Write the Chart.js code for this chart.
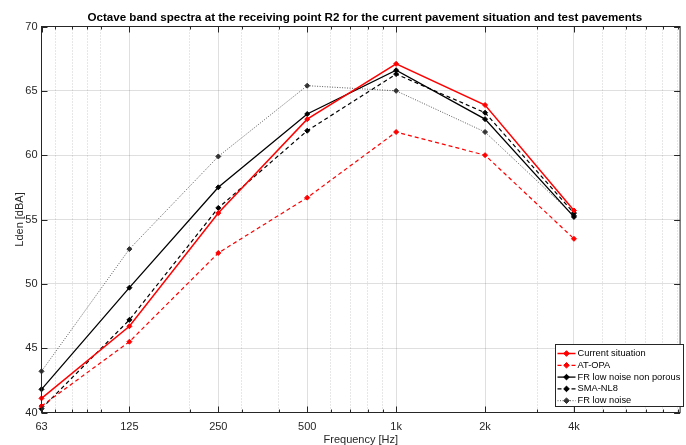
<!DOCTYPE html>
<html>
<head>
<meta charset="utf-8">
<script src="https://cdn.jsdelivr.net/npm/chart.js@4"></script>
<style>
  html, body { margin: 0; padding: 0; background: #fff; }
  canvas { display: block; }
</style>
</head>
<body>
<canvas id="spectraChart" width="686" height="445"></canvas>
<script>
// octave bands and labelled ticks
var bands = [63, 125, 250, 500, 1000, 2000, 4000];
var bandLabels = ["63", "125", "250", "500", "1k", "2k", "4k"];
var minorTicks = [70, 80, 90, 100, 200, 300, 400, 600, 700, 800, 900, 3000, 5000, 6000, 7000, 8000, 9000];

// Lden per band [dBA]
var currentSituation = [41.1, 46.7, 55.5, 62.8, 67.1, 63.9, 55.7];
var atOpa = [40.5, 45.5, 52.4, 56.7, 61.8, 60.0, 53.5];
var frLowNoiseNonPorous = [41.8, 49.7, 57.5, 63.2, 66.6, 62.8, 55.2];
var smaNl8 = [40.3, 47.2, 55.9, 61.9, 66.3, 63.3, 55.5];
var frLowNoise = [43.2, 52.7, 59.9, 65.4, 65.0, 61.8, 55.3];

var titleText = "Octave band spectra at the receiving point R2 for the current pavement situation and test pavements";
var fontFamily = "'Liberation Sans', Arial, Helvetica, sans-serif";
var axisColor = "#262626";
var majorGrid = "rgba(38,38,38,0.15)";
var minorGrid = "rgba(38,38,38,0.22)";

var toPoints = function(values) {
  return bands.map(function(f, i) { return { x: f, y: values[i] }; });
};

var makeSeries = function(label, values, color, width, dash) {
  return {
    label: label,
    data: toPoints(values),
    borderColor: color,
    backgroundColor: color,
    borderWidth: width,
    borderDash: dash,
    pointStyle: "rectRot",
    pointRadius: 2.5,
    pointBorderWidth: 1,
    pointBackgroundColor: color,
    pointBorderColor: color,
    tension: 0,
    clip: false,
  };
};

var datasets = [
  makeSeries("Current situation", currentSituation, "#ff0000", 1.5, []),
  makeSeries("AT-OPA", atOpa, "#ff0000", 1.2, [4, 3]),
  makeSeries("FR low noise non porous", frLowNoiseNonPorous, "#000000", 1.3, []),
  makeSeries("SMA-NL8", smaNl8, "#000000", 1.2, [4, 3]),
  makeSeries("FR low noise", frLowNoise, "#333333", 0.8, [1, 1.5]),
];

// title over the axes
var axesTitle = {
  id: "axesTitle",
  afterDraw: function(chart) {
    var a = chart.chartArea, ctx = chart.ctx;
    ctx.save();
    ctx.fillStyle = "#000";
    ctx.font = "bold 11.6px " + fontFamily;
    ctx.textAlign = "center";
    ctx.textBaseline = "middle";
    ctx.fillText(titleText, (a.left + a.right) / 2 + 4, 17.5);
    ctx.restore();
  },
};

// box round the plot with inward ticks on all four sides
var axesBox = {
  id: "axesBox",
  afterDatasetsDraw: function(chart) {
    var a = chart.chartArea, ctx = chart.ctx;
    var xs = chart.scales.x, ys = chart.scales.y;
    ctx.save();
    ctx.strokeStyle = axisColor;
    ctx.lineWidth = 1;
    ctx.beginPath();
    xs.ticks.forEach(function(t) {
      var px = Math.round(xs.getPixelForValue(t.value)) + 0.5;
      var len = t.major ? 6 : 3;
      ctx.moveTo(px, a.bottom);
      ctx.lineTo(px, a.bottom - len);
      ctx.moveTo(px, a.top);
      ctx.lineTo(px, a.top + len);
    });
    ys.ticks.forEach(function(t) {
      var py = Math.round(ys.getPixelForValue(t.value)) + 0.5;
      ctx.moveTo(a.left, py);
      ctx.lineTo(a.left + 6, py);
      ctx.moveTo(a.right, py);
      ctx.lineTo(a.right - 6, py);
    });
    ctx.stroke();
    ctx.strokeRect(a.left, a.top, a.right - a.left, a.bottom - a.top);
    ctx.restore();
  },
};

var drawDiamond = function(ctx, x, y, r) {
  ctx.beginPath();
  ctx.moveTo(x, y - r);
  ctx.lineTo(x + r, y);
  ctx.lineTo(x, y + r);
  ctx.lineTo(x - r, y);
  ctx.closePath();
  ctx.fill();
  ctx.stroke();
};

// legend box in the lower right corner
var legendBox = {
  id: "legendBox",
  afterDraw: function(chart) {
    var ctx = chart.ctx;
    var x0 = 555.5, y0 = 344.5, w = 128, h = 62;
    ctx.save();
    ctx.fillStyle = "#fff";
    ctx.fillRect(x0, y0, w, h);
    ctx.strokeStyle = axisColor;
    ctx.lineWidth = 1;
    ctx.setLineDash([]);
    ctx.strokeRect(x0, y0, w, h);
    ctx.font = "9.3px " + fontFamily;
    ctx.textBaseline = "middle";
    chart.data.datasets.forEach(function(ds, i) {
      var y = y0 + 9 + i * 11.8;
      ctx.strokeStyle = ds.borderColor;
      ctx.fillStyle = ds.borderColor;
      ctx.lineWidth = ds.borderWidth;
      ctx.setLineDash(ds.borderDash);
      ctx.beginPath();
      ctx.moveTo(x0 + 2, y);
      ctx.lineTo(x0 + 20, y);
      ctx.stroke();
      ctx.setLineDash([]);
      ctx.lineWidth = 1;
      drawDiamond(ctx, x0 + 11, y, 2.8);
      ctx.fillStyle = "#000";
      ctx.fillText(ds.label, x0 + 22, y);
    });
    ctx.restore();
  },
};

var configSpectra = {
  type: "line",
  data: { datasets: datasets },
  options: {
    responsive: false,
    animation: false,
    layout: { padding: { top: 26.5, right: 2.5, left: 0, bottom: 0 } },
    plugins: {
      legend: { display: false },
      title: { display: false },
      tooltip: { enabled: false },
    },
    scales: {
      x: {
        type: "logarithmic",
        min: 63,
        max: 9150,
        afterBuildTicks: function(scale) {
          scale.ticks = bands.concat(minorTicks)
            .sort(function(a, b) { return a - b; })
            .map(function(v) { return { value: v, major: bands.indexOf(v) >= 0 }; });
        },
        afterFit: function(scale) { scale.height = 32.5; },
        ticks: {
          autoSkip: false,
          maxRotation: 0,
          minRotation: 0,
          padding: 8,
          color: axisColor,
          font: { family: fontFamily, size: 11 },
          callback: function(value) {
            var i = bands.indexOf(value);
            return i >= 0 ? bandLabels[i] : "";
          },
        },
        grid: {
          drawTicks: false,
          lineWidth: 1,
          color: function(ctx) {
            return ctx.tick && !ctx.tick.major ? minorGrid : majorGrid;
          },
        },
        border: {
          display: false,
          dash: function(ctx) {
            return ctx.tick && !ctx.tick.major ? [1, 2] : [];
          },
        },
        title: {
          display: true,
          text: "Frequency [Hz]",
          color: axisColor,
          font: { family: fontFamily, size: 11 },
          padding: { top: 0, bottom: -1.5 },
        },
      },
      y: {
        min: 40,
        max: 70,
        afterFit: function(scale) { scale.width = 41.5; },
        ticks: {
          stepSize: 5,
          padding: 4,
          color: axisColor,
          font: { family: fontFamily, size: 11 },
        },
        grid: { drawTicks: false, color: majorGrid, lineWidth: 1 },
        border: { display: false },
        title: {
          display: true,
          text: "Lden [dBA]",
          color: axisColor,
          font: { family: fontFamily, size: 11 },
          padding: { top: 13.5, bottom: 0 },
        },
      },
    },
  },
  plugins: [axesBox, axesTitle, legendBox],
};

var spectraChart = new Chart(document.getElementById("spectraChart"), configSpectra);
</script>
</body>
</html>
